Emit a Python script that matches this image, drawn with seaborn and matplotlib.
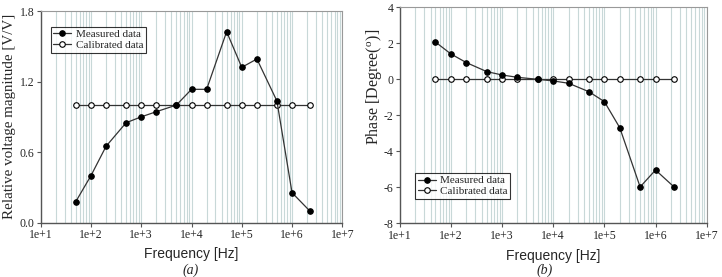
import numpy as np
import pandas as pd
import matplotlib
matplotlib.use("Agg")
import matplotlib.pyplot as plt
import seaborn as sns
from matplotlib.ticker import LogLocator

# data
freq = [50, 100, 200, 500, 1e3, 2e3, 5e3, 1e4, 2e4, 5e4, 1e5, 2e5, 5e5, 1e6, 2.3e6]
mag_measured = [0.18, 0.40, 0.65, 0.85, 0.90, 0.944, 1.0, 1.134, 1.134, 1.624, 1.321, 1.392, 1.035, 0.255, 0.096]
mag_calibrated = [1.0] * 15
phase_measured = [2.07, 1.41, 0.93, 0.43, 0.24, 0.11, 0.0, -0.09, -0.22, -0.69, -1.24, -2.69, -5.98, -5.04, -5.98]
phase_calibrated = [0.0] * 15
xticks = [1e1, 1e2, 1e3, 1e4, 1e5, 1e6, 1e7]
xticklabels = ["1e+1", "1e+2", "1e+3", "1e+4", "1e+5", "1e+6", "1e+7"]

sns.set_style("ticks")
plt.rcParams['font.family'] = ['Liberation Serif', 'DejaVu Serif']
plt.rcParams['mathtext.fontset'] = 'stix'

W, H = 722, 277
fig = plt.figure(figsize=(W / 100, H / 100), dpi=100)
ax1 = fig.add_axes([40.7 / W, (H - 222.7) / H, 301.6 / W, 211.7 / H])
ax2 = fig.add_axes([399.7 / W, (H - 223.3) / H, 307 / W, 216 / H])


def draw(ax, meas, cal, ylim, yticks, yfmt, ylabel, ylab_size, ylab_xy, legend_loc, legend_anchor):
    df = pd.DataFrame({"freq": freq, "meas": meas, "cal": cal})
    ax.set_xscale("log")
    ax.set_xlim(1e1, 1e7)
    ax.xaxis.set_minor_locator(LogLocator(base=10, subs=np.arange(2, 10)))
    ax.grid(which="both", axis="x", color="#c8d8d8", lw=0.8)
    ax.set_axisbelow(True)
    sns.lineplot(data=df, x="freq", y="cal", ax=ax, color="#333333", lw=0.9,
                 marker="o", markersize=4, markerfacecolor="white",
                 markeredgecolor="black", markeredgewidth=0.8,
                 label="Calibrated data", zorder=3)
    sns.lineplot(data=df, x="freq", y="meas", ax=ax, color="#333333", lw=0.9,
                 marker="o", markersize=4, markerfacecolor="black",
                 markeredgecolor="black", label="Measured data", zorder=4)
    ax.set_xticks(xticks)
    ax.set_xticklabels(xticklabels)
    ax.tick_params(axis="x", which="minor", length=0)
    ax.tick_params(axis="both", which="major", labelsize=8.5, length=3,
                   color="#555555", direction="out", pad=1.5)
    ax.set_ylim(*ylim)
    ax.set_yticks(yticks)
    ax.set_yticklabels([yfmt.format(v) for v in yticks])
    for s in ["left", "bottom"]:
        ax.spines[s].set_color("#555555")
        ax.spines[s].set_linewidth(1.0)
    for s in ["top", "right"]:
        ax.spines[s].set_color("#999999")
        ax.spines[s].set_linewidth(0.8)
    ax.set_xlabel("Frequency [Hz]", family=["Liberation Sans"], fontsize=10)
    ax.xaxis.set_label_coords(0.5, -0.15)
    ax.xaxis.label.set_va("center")
    ax.set_ylabel(ylabel, fontsize=ylab_size)
    ax.yaxis.set_label_coords(*ylab_xy)
    ax.yaxis.label.set_va("center")
    handles, labels = ax.get_legend_handles_labels()
    leg = ax.legend(handles[::-1], labels[::-1], loc=legend_loc, bbox_to_anchor=legend_anchor,
                    fontsize=8, frameon=True, fancybox=False, edgecolor="black",
                    handlelength=1.6, handletextpad=0.4, borderpad=0.25,
                    labelspacing=0.1, borderaxespad=0)
    leg.get_frame().set_linewidth(0.8)


draw(ax1, mag_measured, mag_calibrated, (0, 1.8), [0.0, 0.6, 1.2, 1.8], "{:.1f}",
     "Relative voltage magnitude [V/V]", 10.8, (-0.102, 0.5), "upper left", (0.033, 0.926))
draw(ax2, phase_measured, phase_calibrated, (-8, 4), [-8, -6, -4, -2, 0, 2, 4], "{:d}",
     "Phase [Degree($^{\\mathregular{o}}$)]", 11.5, (-0.084, 0.63), "lower left", (0.05, 0.112))

fig.text(191 / W, 1 - 270 / H, "(a)", ha="center", va="center", fontsize=10, style="italic")
fig.text(545 / W, 1 - 270 / H, "(b)", ha="center", va="center", fontsize=10, style="italic")

fig.savefig("out.png", dpi=100)
